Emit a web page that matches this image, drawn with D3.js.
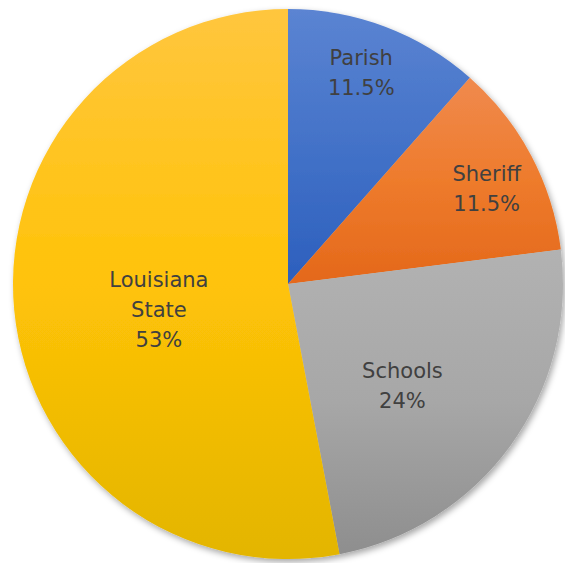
<!DOCTYPE html>
<html><head><meta charset="utf-8">
<script src="https://cdn.jsdelivr.net/npm/d3@7"></script>
<style>html,body{margin:0;padding:0;background:#fff;}svg{display:block;}</style>
</head><body>
<svg id="c" width="565" height="563"></svg>
<script>
const categories = ["Parish", "Sheriff", "Schools", "Louisiana State"];
const values = [11.5, 11.5, 24, 53];
const labels = [["Parish","11.5%"],["Sheriff","11.5%"],["Schools","24%"],["Louisiana","State","53%"]];
const colorTop = ["#5b84d2", "#f08a4e", "#b2b2b2", "#ffc63e"];
const colorMid = ["#4372c8", "#ee7b2c", "#a7a7a7", "#ffc308"];
const colorBot = ["#2c5fbd", "#e4681a", "#8e8e8e", "#e3b500"];

const svg = d3.select("#c");
const cx = 288, cy = 284, r = 275;
const defs = svg.append("defs");
const f = defs.append("filter").attr("id","sh").attr("x","-10%").attr("y","-10%").attr("width","120%").attr("height","120%");
f.append("feDropShadow").attr("dx",2).attr("dy",3).attr("stdDeviation",3).attr("flood-color","#000").attr("flood-opacity",0.35);

const data = categories.map((c,i)=>({c, v: values[i], i}));
const pie = d3.pie().value(d=>d.v).sort(null);
const arcs = pie(data);
const arc = d3.arc().innerRadius(0).outerRadius(r);

arcs.forEach((a,i)=>{
  const g = defs.append("linearGradient").attr("id","g"+i)
    .attr("x1",0).attr("y1",0).attr("x2",0).attr("y2",1);
  g.append("stop").attr("offset","0%").attr("stop-color",colorTop[i]);
  g.append("stop").attr("offset","50%").attr("stop-color",colorMid[i]);
  g.append("stop").attr("offset","100%").attr("stop-color",colorBot[i]);
});

const gp = svg.append("g").attr("transform",`translate(${cx},${cy})`).attr("filter","url(#sh)");
gp.selectAll("path").data(arcs).join("path")
  .attr("d", arc)
  .attr("fill",(d,i)=>`url(#g${i})`);

// label placement (radius fraction, angle tweak in degrees)
const labelR = [0.81, 0.80, 0.56, 0.48];
const labelDA = [-1.5, 2.5, 6, -6.6];
const lg = svg.append("g").attr("transform",`translate(${cx},${cy})`);
arcs.forEach((a,i)=>{
  const ang = (a.startAngle + a.endAngle)/2 + labelDA[i]*Math.PI/180;
  const rr = r*labelR[i];
  const x = Math.sin(ang)*rr, y = -Math.cos(ang)*rr;
  const lines = labels[i];
  const lh = 30;
  const t = lg.append("text").attr("x",x).attr("y",y - (lines.length-1)*lh/2)
    .attr("text-anchor","middle").attr("dominant-baseline","middle")
    .attr("font-family","'DejaVu Sans', sans-serif").attr("font-size",21)
    .attr("fill","#404040");
  lines.forEach((l,j)=>{
    t.append("tspan").attr("x",x).attr("dy", j===0?0:lh).text(l);
  });
});
</script>
</body></html>
